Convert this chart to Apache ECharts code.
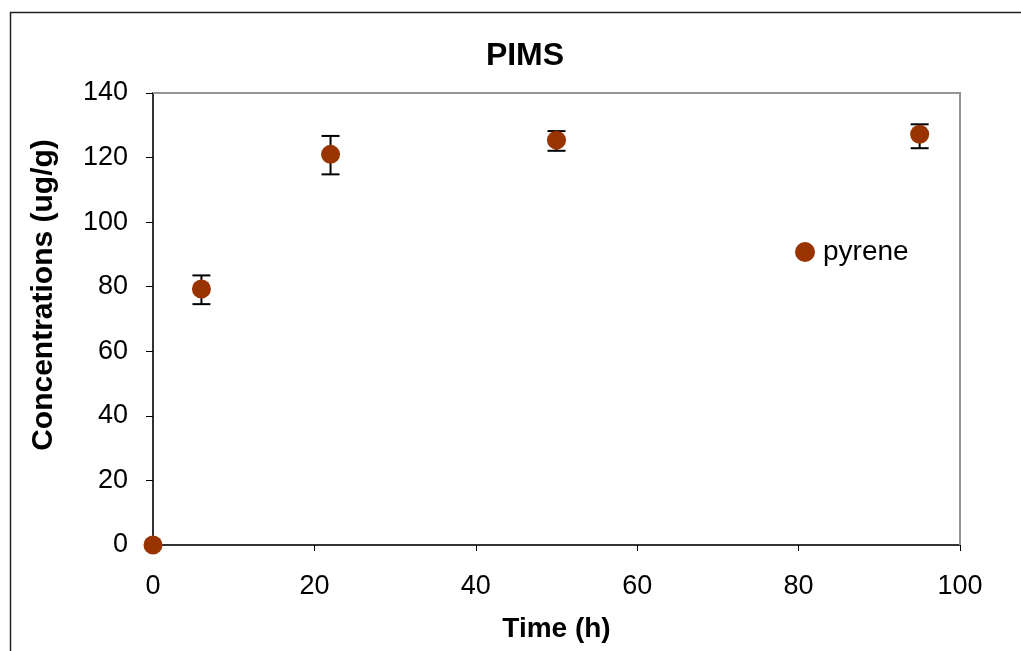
<!DOCTYPE html>
<html>
<head>
<meta charset="utf-8">
<script src="https://cdn.jsdelivr.net/npm/echarts@6/dist/echarts.min.js"></script>
<style>
html,body{margin:0;padding:0;background:#fff;}
#chart{width:1021px;height:651px;}
</style>
</head>
<body>
<div id="chart"></div>
<script>
var times = [0, 6, 22, 50, 95];
var pyrene = [0, 79.3, 121.0, 125.4, 127.2];
var errLow = [0, 74.6, 114.8, 122.1, 122.9];
var errHigh = [0, 83.5, 126.7, 128.2, 130.3];
var xTicks = [0, 20, 40, 60, 80, 100];
var yTicks = [0, 20, 40, 60, 80, 100, 120, 140];

var FONT = '"Liberation Sans", Arial, sans-serif';
var chart = echarts.init(document.getElementById('chart'));

var pts = times.map(function (t, i) { return [t, pyrene[i]]; });
var errs = times.map(function (t, i) { return [t, errLow[i], errHigh[i]]; });

chart.setOption({
  animation: false,
  backgroundColor: '#fff',
  title: {
    text: 'PIMS',
    left: 525, top: 40, textAlign: 'center', padding: 0,
    textStyle: { fontFamily: FONT, fontSize: 32, fontWeight: 'bold', color: '#000' }
  },
  legend: {
    left: 795, top: 238, padding: 0,
    itemWidth: 20, itemHeight: 20, itemGap: 10,
    data: [{ name: 'pyrene', icon: 'circle' }],
    textStyle: { fontFamily: FONT, fontSize: 28, color: '#000', padding: [0, 0, 0, 3] }
  },
  graphic: [{
    type: 'rect', silent: true, z: -10,
    shape: { x: 10.5, y: 12.5, width: 1100, height: 800 },
    style: { fill: 'none', stroke: '#222', lineWidth: 1.5 }
  }, {
    type: 'polyline', silent: true, z: 1,
    shape: { points: [[153, 93], [960, 93], [960, 545]] },
    style: { fill: 'none', stroke: '#969696', lineWidth: 2 }
  }],
  grid: { left: 153, top: 93, width: 807, height: 452, show: false },
  xAxis: {
    type: 'value', min: 0, max: 100, interval: 20,
    name: 'Time (h)', nameLocation: 'middle', nameGap: 70,
    nameTextStyle: { fontFamily: FONT, fontSize: 28, fontWeight: 'bold', color: '#000' },
    axisLine: { show: true, lineStyle: { color: '#333', width: 2 } },
    axisTick: { show: true, inside: false, length: 6, lineStyle: { color: '#000', width: 1 } },
    splitLine: { show: false },
    axisLabel: { fontFamily: FONT, fontSize: 27, color: '#000', margin: 28,
      formatter: function (v) { return xTicks.indexOf(v) >= 0 ? String(v) : ''; } }
  },
  yAxis: {
    type: 'value', min: 0, max: 140, interval: 20,
    name: 'Concentrations (ug/g)', nameLocation: 'middle', nameGap: 94,
    nameTextStyle: { fontFamily: FONT, fontSize: 30, fontWeight: 'bold', color: '#000', padding: [0, 0, 0, 48] },
    axisLine: { show: true, lineStyle: { color: '#333', width: 2 } },
    axisTick: { show: true, inside: false, length: 7, lineStyle: { color: '#000', width: 1 } },
    splitLine: { show: false },
    axisLabel: { fontFamily: FONT, fontSize: 27, color: '#000', margin: 25,
      formatter: function (v) { return yTicks.indexOf(v) >= 0 ? String(v) : ''; } }
  },
  series: [{
    type: 'custom',
    name: 'err',
    clip: false,
    z: 3,
    data: errs,
    renderItem: function (params, api) {
      var x = api.value(0);
      var lo = api.coord([x, api.value(1)]);
      var hi = api.coord([x, api.value(2)]);
      if (Math.abs(lo[1] - hi[1]) < 1) return null;
      var hw = 9;
      var st = { stroke: '#000', lineWidth: 2 };
      return {
        type: 'group',
        children: [
          { type: 'line', shape: { x1: hi[0], y1: hi[1], x2: lo[0], y2: lo[1] }, style: st },
          { type: 'line', shape: { x1: hi[0] - hw, y1: hi[1], x2: hi[0] + hw, y2: hi[1] }, style: st },
          { type: 'line', shape: { x1: lo[0] - hw, y1: lo[1], x2: lo[0] + hw, y2: lo[1] }, style: st }
        ]
      };
    }
  }, {
    type: 'scatter',
    name: 'pyrene',
    data: pts,
    clip: false,
    z: 5,
    symbol: 'circle',
    symbolSize: 19,
    itemStyle: { color: '#993300', opacity: 1 }
  }]
});
</script>
</body>
</html>
